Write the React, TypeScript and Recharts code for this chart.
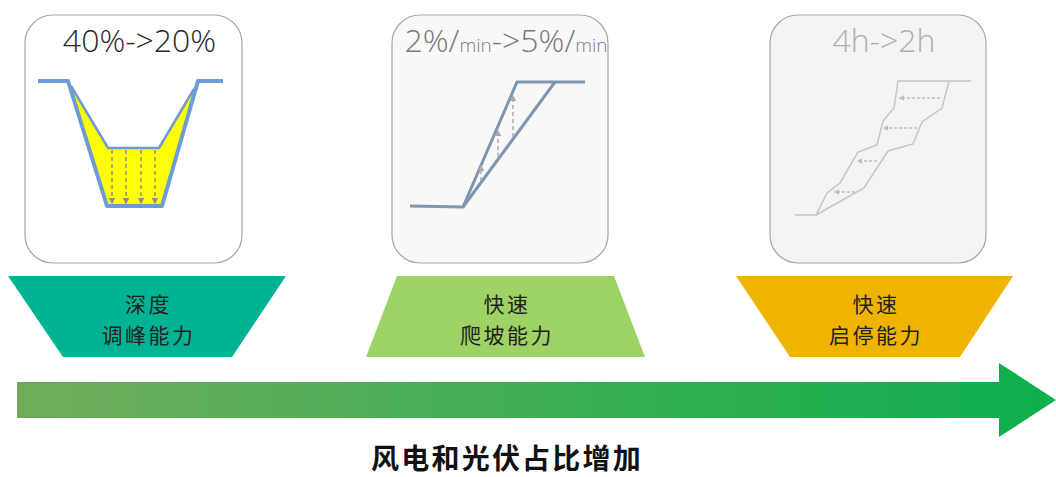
import { ComposedChart, XAxis, YAxis, Line, ReferenceArea } from "recharts";

type Pt = { x: number; y: number };

const W = 1056;
const H = 477;

// top row: three rounded panels with a title each
const panelTitles = ["40%->20%", "2%/min->5%/min", "4h->2h"];
const panelLeft = [25, 392, 770];
const panelRight = [242, 608, 986];
const panelTop = [15, 15, 15];
const panelBottom = [263, 263, 263];

// middle row: capability labels
const capabilityTop = ["深度", "快速", "快速"];
const capabilityBottom = ["调峰能力", "爬坡能力", "启停能力"];
const capabilityShapes: Pt[][] = [
  [{ x: 8, y: 276 }, { x: 286, y: 276 }, { x: 232, y: 357 }, { x: 63, y: 357 }],
  [{ x: 397, y: 276 }, { x: 614, y: 276 }, { x: 645, y: 357 }, { x: 366, y: 357 }],
  [{ x: 736, y: 276 }, { x: 1013, y: 276 }, { x: 960, y: 357 }, { x: 790, y: 357 }],
];

// bottom arrow
const trendLabel = "风电和光伏占比增加";
const trendArrow: Pt[] = [
  { x: 17, y: 382 }, { x: 999, y: 382 }, { x: 999, y: 363 }, { x: 1056, y: 400 },
  { x: 999, y: 437 }, { x: 999, y: 418 }, { x: 17, y: 418 },
];

// panel 1: deep peak shaving
const troughOuter: Pt[] = [
  { x: 38, y: 81 }, { x: 68, y: 81 }, { x: 107, y: 206 },
  { x: 162, y: 206 }, { x: 198, y: 81 }, { x: 223, y: 81 },
];
const troughInner: Pt[] = [
  { x: 71, y: 86 }, { x: 108, y: 148 }, { x: 159, y: 148 }, { x: 194, y: 89 },
];
const troughFill: Pt[] = [
  { x: 70, y: 84 }, { x: 108, y: 148 }, { x: 159, y: 148 }, { x: 195, y: 86 },
  { x: 162, y: 206 }, { x: 107, y: 206 },
];
const troughDrops = [
  { x1: 112, y1: 150, x2: 112, y2: 204 },
  { x1: 126, y1: 150, x2: 126, y2: 204 },
  { x1: 141, y1: 150, x2: 141, y2: 204 },
  { x1: 155, y1: 150, x2: 155, y2: 204 },
];

// panel 2: ramping
const rampFast: Pt[] = [
  { x: 410, y: 206 }, { x: 463, y: 207 }, { x: 517, y: 82 }, { x: 585, y: 82 },
];
const rampSlow: Pt[] = [{ x: 463, y: 207 }, { x: 555, y: 82 }];
const rampLifts = [
  { x1: 481, y1: 181, x2: 481, y2: 165 },
  { x1: 498, y1: 157, x2: 498, y2: 130 },
  { x1: 513, y1: 137, x2: 513, y2: 95 },
];

// panel 3: start / stop
const startSlow: Pt[] = [
  { x: 795, y: 215 }, { x: 816, y: 215 }, { x: 827, y: 193 }, { x: 840, y: 183 },
  { x: 858, y: 152 }, { x: 877, y: 145 }, { x: 883, y: 121 }, { x: 894, y: 108 },
  { x: 898, y: 81 }, { x: 971, y: 81 },
];
const startFast: Pt[] = [
  { x: 816, y: 215 }, { x: 864, y: 188 }, { x: 888, y: 151 }, { x: 913, y: 144 },
  { x: 922, y: 122 }, { x: 942, y: 108 }, { x: 949, y: 81 },
];
const startShifts = [
  { x1: 940, y1: 98, x2: 899, y2: 98 },
  { x1: 917, y1: 128, x2: 883, y2: 128 },
  { x1: 877, y1: 161, x2: 857, y2: 161 },
  { x1: 855, y1: 192, x2: 834, y2: 192 },
];

const panelFill = ["#ffffff", "#f8f8f8", "#f4f4f4"];
const titleColor = ["#2a2a2a", "#7a7a7a", "#b0b0b0"];
const capabilityColor = ["#00b393", "#9fd264", "#f0b400"];

const lightFont = "'Open Sans', 'Noto Sans', sans-serif";
const cjkFont = "'Noto Sans CJK SC', sans-serif";

type Seg = { x1: number; y1: number; x2: number; y2: number };

const segData = (s: Seg) => [
  { x: s.x1, y: s.y1 },
  { x: s.x2, y: s.y2, dir: [s.x2 - s.x1, s.y2 - s.y1] },
];

const bounds = (pts: Pt[]) => {
  const xs = pts.map((p) => p.x);
  const ys = pts.map((p) => p.y);
  return {
    x1: Math.min(...xs),
    x2: Math.max(...xs),
    y1: Math.min(...ys),
    y2: Math.max(...ys),
  };
};

// maps polygon points inside the box that ReferenceArea got from the scales
const toPixels = (pts: Pt[], props: any) => {
  const b = bounds(pts);
  const { x, y, width, height } = props;
  return pts
    .map(
      (p) =>
        `${x + ((p.x - b.x1) / (b.x2 - b.x1)) * width},${
          y + ((p.y - b.y1) / (b.y2 - b.y1)) * height
        }`
    )
    .join(" ");
};

const arrowHead = (color: string, size: number) => (props: any) => {
  const { cx, cy, payload, index } = props;
  if (!payload || !payload.dir) return <g key={`d${index}`} />;
  const [dx, dy] = payload.dir;
  const len = Math.hypot(dx, dy);
  const ux = dx / len;
  const uy = dy / len;
  const bx = cx - ux * size;
  const by = cy - uy * size;
  const w = size * 0.55;
  const pts = `${cx},${cy} ${bx - uy * w},${by + ux * w} ${bx + uy * w},${by - ux * w}`;
  return <polygon key={`d${index}`} points={pts} fill={color} />;
};

function PanelTitle({ i, cx, y }: { i: number; cx: number; y: number }) {
  const parts = panelTitles[i].split("min");
  return (
    <text
      x={cx}
      y={y}
      textAnchor="middle"
      fontFamily={lightFont}
      fontWeight={300}
      fontSize={32}
      fill={titleColor[i]}
    >
      {parts.map((p, k) => (
        <tspan key={k}>
          {p}
          {k < parts.length - 1 && <tspan fontSize={19}>min</tspan>}
        </tspan>
      ))}
    </text>
  );
}

export default function App() {
  return (
    <div style={{ position: "absolute", left: 0, top: 0 }}>
      <ComposedChart width={W} height={H} margin={{ top: 0, right: 0, bottom: 0, left: 0 }}>
        <defs>
          <linearGradient id="trendGradient" x1="0" y1="0" x2="1" y2="0">
            <stop offset="0%" stopColor="#70ad5a" />
            <stop offset="100%" stopColor="#0daf4e" />
          </linearGradient>
        </defs>
        <XAxis type="number" dataKey="x" domain={[0, W]} hide allowDataOverflow />
        <YAxis type="number" domain={[0, H]} reversed hide allowDataOverflow />

        {panelTitles.map((_, i) => (
          <ReferenceArea
            key={`panel${i}`}
            x1={panelLeft[i]}
            x2={panelRight[i]}
            y1={panelTop[i]}
            y2={panelBottom[i]}
            ifOverflow="visible"
            shape={(p: any) => (
              <g>
                <rect
                  x={p.x}
                  y={p.y}
                  width={p.width}
                  height={p.height}
                  rx={28}
                  ry={28}
                  fill={panelFill[i]}
                  stroke="#a6a6a6"
                  strokeWidth={1.2}
                />
                <PanelTitle i={i} cx={p.x + p.width / 2 + 6} y={p.y + 37} />
              </g>
            )}
          />
        ))}

        <ReferenceArea
          {...bounds(troughFill)}
          ifOverflow="visible"
          shape={(p: any) => <polygon points={toPixels(troughFill, p)} fill="#ffff00" />}
        />

        {capabilityShapes.map((shape, i) => (
          <ReferenceArea
            key={`cap${i}`}
            {...bounds(shape)}
            ifOverflow="visible"
            shape={(p: any) => (
              <g>
                <polygon points={toPixels(shape, p)} fill={capabilityColor[i]} />
                <text
                  x={p.x + p.width / 2 + 1.5}
                  y={p.y + 36}
                  textAnchor="middle"
                  fontFamily={cjkFont}
                  fontSize={21}
                  letterSpacing={2.5}
                  fill="#222"
                >
                  <tspan x={p.x + p.width / 2 + 1.5}>{capabilityTop[i]}</tspan>
                  <tspan x={p.x + p.width / 2 + 1.5} dy={30.5}>
                    {capabilityBottom[i]}
                  </tspan>
                </text>
              </g>
            )}
          />
        ))}

        <ReferenceArea
          {...bounds(trendArrow)}
          ifOverflow="visible"
          shape={(p: any) => (
            <g>
              <polygon points={toPixels(trendArrow, p)} fill="url(#trendGradient)" />
              <text
                x={507}
                y={p.y + p.height + 20}
                textAnchor="middle"
                dominantBaseline="central"
                fontFamily={cjkFont}
                fontWeight={700}
                fontSize={28}
                letterSpacing={2.2}
                fill="#111"
              >
                {trendLabel}
              </text>
            </g>
          )}
        />

        {/* panel 1 */}
        <Line data={troughInner} dataKey="y" stroke="#6d9bd6" strokeWidth={2.5} dot={false} activeDot={false} isAnimationActive={false} />
        <Line data={troughOuter} dataKey="y" stroke="#6d9bd6" strokeWidth={4} strokeLinejoin="round" dot={false} activeDot={false} isAnimationActive={false} />
        {troughDrops.map((s, i) => (
          <Line key={`drop${i}`} data={segData(s)} dataKey="y" stroke="#8c8c8c" strokeWidth={1.4} strokeDasharray="4 3" dot={arrowHead("#8c8c8c", 6)} activeDot={false} isAnimationActive={false} />
        ))}

        {/* panel 2 */}
        <Line data={rampFast} dataKey="y" stroke="#7f96b3" strokeWidth={3} dot={false} activeDot={false} isAnimationActive={false} />
        <Line data={rampSlow} dataKey="y" stroke="#7f96b3" strokeWidth={3} dot={false} activeDot={false} isAnimationActive={false} />
        {rampLifts.map((s, i) => (
          <Line key={`lift${i}`} data={segData(s)} dataKey="y" stroke="#a8a8a8" strokeWidth={1.4} strokeDasharray="4 3" dot={arrowHead("#a8a8a8", 6)} activeDot={false} isAnimationActive={false} />
        ))}

        {/* panel 3 */}
        <Line data={startSlow} dataKey="y" stroke="#c6c6c6" strokeWidth={1.5} dot={false} activeDot={false} isAnimationActive={false} />
        <Line data={startFast} dataKey="y" stroke="#c6c6c6" strokeWidth={1.5} dot={false} activeDot={false} isAnimationActive={false} />
        {startShifts.map((s, i) => (
          <Line key={`shift${i}`} data={segData(s)} dataKey="y" stroke="#c0c0c0" strokeWidth={1.3} strokeDasharray="3 2" dot={arrowHead("#c0c0c0", 5)} activeDot={false} isAnimationActive={false} />
        ))}
      </ComposedChart>
    </div>
  );
}
